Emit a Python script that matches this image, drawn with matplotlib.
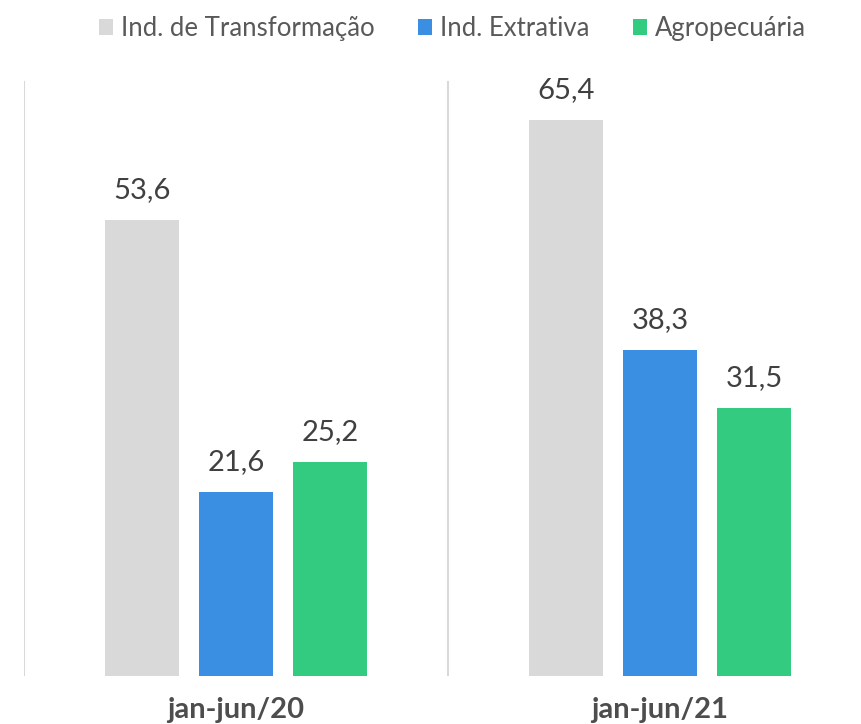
import matplotlib
matplotlib.use("Agg")
import matplotlib.pyplot as plt
import numpy as np

plt.rcParams['font.family'] = ['Lato', 'DejaVu Sans']

categories = ["jan-jun/20", "jan-jun/21"]
series_names = ["Ind. de Transformação", "Ind. Extrativa", "Agropecuária"]
transformacao = [53.6, 65.4]
extrativa = [21.6, 38.3]
agropecuaria = [25.2, 31.5]
colors = ["#D9D9D9", "#3B8FE3", "#33CB80"]

fig = plt.figure(figsize=(8.62, 7.24), dpi=100)
ax = fig.add_axes([24/862, 48/724, 848/862, 595/724])

x = np.arange(len(categories))
w = 0.1745
step = 0.2217
values = [transformacao, extrativa, agropecuaria]
handles = []
for i, (vals, c, name) in enumerate(zip(values, colors, series_names)):
    pos = x + (i - 1) * step
    b = ax.bar(pos, vals, width=w, color=c, label=name)
    handles.append(b)
    for p, v in zip(pos, vals):
        ax.text(p, v + 2.0, f"{v:.1f}".replace(".", ","), ha="center", va="bottom",
                fontsize=21, color="#404040")

ax.set_xlim(-0.5, 1.5)
ax.set_ylim(0, 70)
for xv in [-0.5, 0.5]:
    ax.axvline(xv, color="#D9D9D9", lw=1.5)
for s in ax.spines.values():
    s.set_visible(False)
ax.set_yticks([])
ax.set_xticks(x)
ax.set_xticklabels(categories, fontsize=21, fontweight="bold", color="#4D4D4D")
ax.tick_params(axis="x", length=0, pad=15)

fig.legend(handles=handles, labels=series_names, loc="upper center",
           bbox_to_anchor=(0.525, 1.01), ncol=3, frameon=False, fontsize=18.5,
           handlelength=0.55, handleheight=0.55, handletextpad=0.3, columnspacing=1.7,
           labelcolor="#595959")

fig.savefig("out.png", dpi=100)
